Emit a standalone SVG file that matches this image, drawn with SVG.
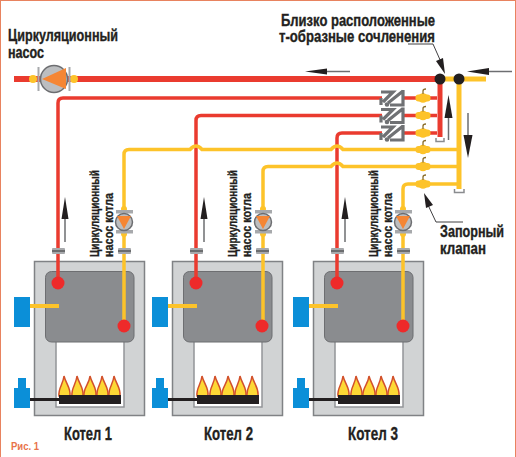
<svg xmlns="http://www.w3.org/2000/svg" xmlns:xlink="http://www.w3.org/1999/xlink" width="516" height="457" viewBox="0 0 516 457">
<style>
text{font-family:"Liberation Sans Narrow","Liberation Sans",Arial,sans-serif;font-weight:700;fill:#231f20;stroke:#231f20;stroke-width:.35px}
.lbl{font-size:16px}
.vl{font-size:13.5px}
.ko{font-size:18px}
.r{fill:none;stroke:#ea3b2f;stroke-width:3.500}
.y{fill:none;stroke:#fdc32a;stroke-width:3.500}
.rm{fill:none;stroke:#ea3b2f;stroke-width:6}
.ym{fill:none;stroke:#fdc32a;stroke-width:5}
.tail{fill:none;stroke:#6d6e71;stroke-width:1.5}
.lead{fill:none;stroke:#414042;stroke-width:1}
.head{fill:#231f20}
.cap{fill:none;stroke:#8a8c8f;stroke-width:1.5}
.gz{fill:none;stroke:#6f7174;stroke-width:3.200}
</style>
<defs>
<g id="boiler">
<rect x="34.500" y="261.500" width="110" height="154" fill="#d1d3d4" stroke="#808285" stroke-width="1.500"/>
<rect x="56" y="335" width="68" height="72" fill="#fff" stroke="#939598" stroke-width="1.500"/>
<rect x="45.500" y="271.500" width="88.500" height="70.500" rx="6" fill="#8a8c8f" stroke="#6d6e71" stroke-width="1"/>
<rect x="14" y="297" width="16" height="30" fill="#0b8fd8"/>
<path d="M18 378h8v10h4v20H14v-20h4z" fill="#0b8fd8"/>
<g fill="#fdd835" stroke="#d2502b" stroke-width="1.500">
<path d="M59 396c-1-8 4-11 5-20c2 8 7 12 6 20z"/>
<path d="M72 396c-1-8 4-11 5-20c2 8 7 12 6 20z"/>
<path d="M84 396c-1-8 5-11 6-20c2 8 7 12 6 20z"/>
<path d="M97 396c-1-8 4-11 5-20c2 8 7 12 6 20z"/>
<path d="M109 396c-1-8 4-11 5-20c2 8 7 12 6 20z"/>
</g>
<rect x="59" y="395" width="62" height="9" fill="#231f20"/>
<path d="M30 399.500H60" stroke="#231f20" stroke-width="3"/>
<path d="M30 306H59" stroke="#fdc32a" stroke-width="4"/>
</g>
<g id="ports">
<rect x="52" y="248" width="13" height="6" rx="1" fill="#a7a9ac"/>
<rect x="118" y="248" width="13" height="6" rx="1" fill="#a7a9ac"/>
<path d="M52 251h13M118 251h13" stroke="#58595b" stroke-width="1.500"/>
<circle cx="58" cy="283" r="6.500" fill="#ee2a2a"/>
<circle cx="124" cy="326" r="6.500" fill="#ee2a2a"/>
</g>
<g id="cpump">
<circle cx="124" cy="209" r="3" fill="#fdc32a"/>
<circle cx="124" cy="234" r="3" fill="#fdc32a"/>
<rect x="116" y="210" width="17" height="3.500" fill="#a7a9ac"/>
<rect x="116" y="230" width="17" height="3.500" fill="#a7a9ac"/>
<circle cx="124" cy="222" r="8.500" fill="#bcbec0" stroke="#6d6e71" stroke-width="1.500"/>
<path d="M117 216h14l-7 13z" fill="#f58634"/>
</g>
<g id="valve">
<rect x="415.500" y="-3.500" width="15" height="7" rx="3" fill="#fdc32a"/>
<circle cx="423" cy="0" r="4.800" fill="#fdc32a"/>
<path d="M423-4V-7q0-2 3-2" fill="none" stroke="#8a6d2b" stroke-width="1.300"/>
</g>
<g id="chk">
<rect x="382" y="5" width="20" height="6" fill="#fff" stroke="none"/>
<path d="M381 15V8M381 2H393L383 12"/>
<path d="M403 0V15H390M403 1L388 13"/>
<circle cx="387" cy="14.500" r="2.300" fill="#6f7174" stroke="none"/>
</g>
</defs>
<rect x="0.500" y="0.500" width="515" height="470" fill="#fff" stroke="#e8835f" stroke-width="1"/>
<g id="boiler-1"><use xlink:href="#boiler"/></g>
<g id="boiler-2"><use xlink:href="#boiler" x="138"/></g>
<g id="boiler-3"><use xlink:href="#boiler" x="279"/></g>
<g id="connectors">
<path class="r" d="M437 98H63q-5 0-5 5V283"/>
<path class="r" d="M437 115.500H201q-5 0-5 5V283"/>
<path class="r" d="M437 133H342q-5 0-5 5V283"/>
<path class="rm" d="M14 79H440"/>
<path class="r" d="M440 79V137" style="stroke-width:5"/>
<path class="y" d="M459 149.500H343q-6-7-12 0H202q-6-7-12 0H129q-5 0-5 5V326"/>
<path class="y" d="M459 166.500H343q-6-7-12 0H268q-5 0-5 5V326"/>
<path class="y" d="M459 184H408q-5 0-5 5V326"/>
<path class="ym" d="M440 79H486"/>
<path class="ym" d="M459 79V189"/>
<path class="cap" d="M436 138v3.500h8V138M454.500 189v3.500h9.500V189"/>
<path class="tail" d="M350 71.500H325"/><path class="head" d="M305 71.500l22-3v6z"/>
<path class="tail" d="M512 71.500H488"/><path class="head" d="M467 71.500l22-3.500v7z"/>
<path class="tail" d="M448.500 140V115"/><path class="head" d="M448.500 95l-4 23h8z"/>
<path class="tail" d="M468 113V137"/><path class="head" d="M468 158l-4.500-23h9z"/>
<path class="tail" d="M65 242V216"/><path class="head" d="M65 197l-3.500 22h7z"/>
<path class="tail" d="M204 242V216"/><path class="head" d="M204 197l-3.500 22h7z"/>
<path class="tail" d="M345 242V216"/><path class="head" d="M345 197l-3.500 22h7z"/>
<path class="lead" d="M408 44H433L441 62"/><path class="head" d="M445 74l-9-13l7-3z"/>
<path class="lead" d="M463 222H436L428 205"/><path class="head" d="M424 193l9 12l-7 3z"/>
</g>
<g id="ports-1"><use xlink:href="#ports"/><use xlink:href="#cpump"/></g>
<g id="ports-2"><use xlink:href="#ports" x="138"/><use xlink:href="#cpump" x="139"/></g>
<g id="ports-3"><use xlink:href="#ports" x="279"/><use xlink:href="#cpump" x="279"/></g>
<g id="circulation-pump">
<circle cx="33" cy="79" r="4" fill="#fdc32a"/>
<circle cx="74" cy="79" r="4" fill="#fdc32a"/>
<path d="M38.500 67V91M69.500 67V91" stroke="#a7a9ac" stroke-width="2"/>
<circle cx="54" cy="79" r="13.500" fill="#bcbec0" stroke="#6d6e71" stroke-width="1.500"/>
<path d="M66 68V89L42 79z" fill="#f58634"/>
</g>
<g id="check-valves" class="gz">
<use xlink:href="#chk" y="90"/><use xlink:href="#chk" y="107.500"/><use xlink:href="#chk" y="125"/>
</g>
<g id="valves">
<use xlink:href="#valve" y="98"/><use xlink:href="#valve" y="115.500"/><use xlink:href="#valve" y="133"/>
<use xlink:href="#valve" y="149.500"/><use xlink:href="#valve" y="166.500"/><use xlink:href="#valve" y="184"/>
</g>
<g id="tees"><circle cx="440" cy="79" r="5.500" fill="#231f20"/><circle cx="459" cy="79" r="5.500" fill="#231f20"/></g>
<g id="labels">
<text class="lbl" x="8" y="41" textLength="110" lengthAdjust="spacingAndGlyphs">Циркуляционный</text>
<text class="lbl" x="8" y="58" textLength="36" lengthAdjust="spacingAndGlyphs">насос</text>
<text class="lbl" x="281" y="26" textLength="154" lengthAdjust="spacingAndGlyphs">Близко расположенные</text>
<text class="lbl" x="279" y="42" textLength="156" lengthAdjust="spacingAndGlyphs">т-образные сочленения</text>
<text class="lbl" x="440" y="237" textLength="64" lengthAdjust="spacingAndGlyphs">Запорный</text>
<text class="lbl" x="440" y="254" textLength="46" lengthAdjust="spacingAndGlyphs">клапан</text>
<text class="vl" transform="translate(99 257) rotate(-90)" textLength="87" lengthAdjust="spacingAndGlyphs">Циркуляционный</text>
<text class="vl" transform="translate(112.500 257) rotate(-90)" textLength="64" lengthAdjust="spacingAndGlyphs">насос котла</text>
<text class="vl" transform="translate(237 257) rotate(-90)" textLength="87" lengthAdjust="spacingAndGlyphs">Циркуляционный</text>
<text class="vl" transform="translate(250.500 257) rotate(-90)" textLength="64" lengthAdjust="spacingAndGlyphs">насос котла</text>
<text class="vl" transform="translate(378 257) rotate(-90)" textLength="87" lengthAdjust="spacingAndGlyphs">Циркуляционный</text>
<text class="vl" transform="translate(391.500 257) rotate(-90)" textLength="64" lengthAdjust="spacingAndGlyphs">насос котла</text>
<text class="ko" x="64" y="440" textLength="48" lengthAdjust="spacingAndGlyphs">Котел 1</text>
<text class="ko" x="204" y="440" textLength="49" lengthAdjust="spacingAndGlyphs">Котел 2</text>
<text class="ko" x="348" y="440" textLength="50" lengthAdjust="spacingAndGlyphs">Котел 3</text>
<text x="11" y="450" style="font-size:11px;fill:#e8734a;stroke:none" textLength="28" lengthAdjust="spacingAndGlyphs">Рис. 1</text>
</g>
</svg>
